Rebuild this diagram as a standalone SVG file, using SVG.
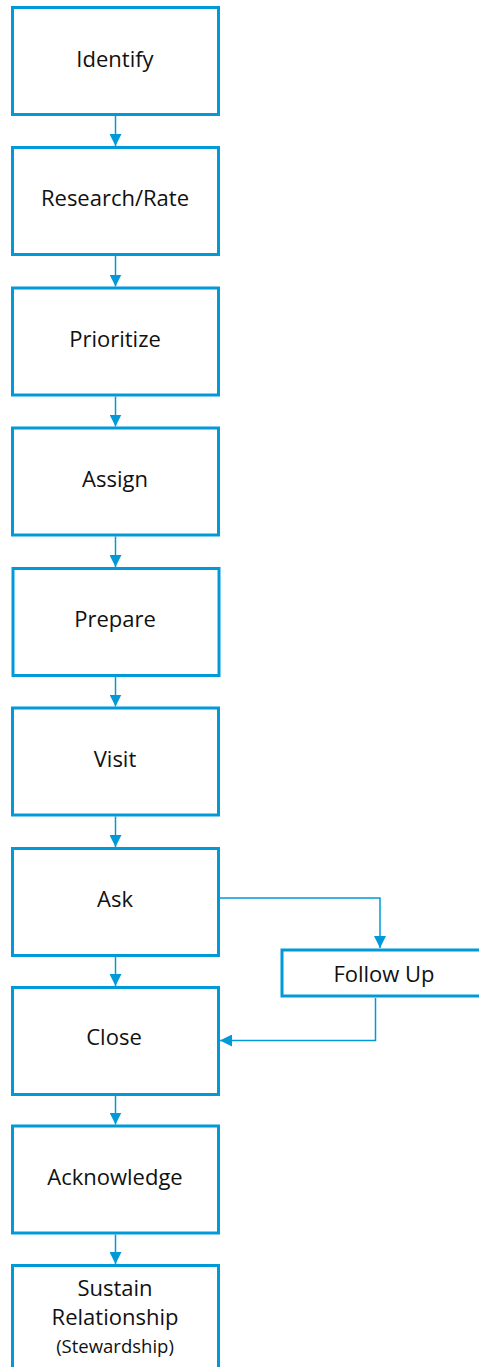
<svg xmlns="http://www.w3.org/2000/svg" width="479" height="1367" viewBox="0 0 479 1367">
<style>
.box{fill:#fff;stroke:#009ad9;stroke-width:3}
.ln{fill:none;stroke:#009ad9;stroke-width:1.5}
.t{font-family:"Open Sans","Liberation Sans",sans-serif;font-size:22px;fill:#111;text-anchor:middle}
.s{font-size:18.5px}
</style>
<defs>
<marker id="a" markerUnits="userSpaceOnUse" markerWidth="12" markerHeight="12" refX="12" refY="6" orient="auto">
<path d="M0,0L12,6L0,12z" fill="#009ad9"/>
</marker>
</defs>
<rect width="479" height="1367" fill="#fff"/>
<g id="connectors">
<line class="ln" x1="115.5" y1="116" x2="115.5" y2="146" marker-end="url(#a)"/>
<line class="ln" x1="115.5" y1="256" x2="115.5" y2="286.5" marker-end="url(#a)"/>
<line class="ln" x1="115.5" y1="396.5" x2="115.5" y2="426.5" marker-end="url(#a)"/>
<line class="ln" x1="115.5" y1="536.5" x2="115.5" y2="567" marker-end="url(#a)"/>
<line class="ln" x1="115.5" y1="677" x2="115.5" y2="706.5" marker-end="url(#a)"/>
<line class="ln" x1="115.5" y1="816.5" x2="115.5" y2="847" marker-end="url(#a)"/>
<line class="ln" x1="115.5" y1="957" x2="115.5" y2="986" marker-end="url(#a)"/>
<line class="ln" x1="115.5" y1="1096" x2="115.5" y2="1124.5" marker-end="url(#a)"/>
<line class="ln" x1="115.5" y1="1234.5" x2="115.5" y2="1264" marker-end="url(#a)"/>
<polyline class="ln" points="220,898 380,898 380,948" marker-end="url(#a)"/>
<polyline class="ln" points="375.5,998 375.5,1040.5 220,1040.5" marker-end="url(#a)"/>
</g>
<g id="n1"><rect class="box" x="12.5" y="7.5" width="206" height="107"/><text class="t" x="115" y="66.5">Identify</text></g>
<g id="n2"><rect class="box" x="12.5" y="147.5" width="206" height="107"/><text class="t" x="115" y="205.5">Research/Rate</text></g>
<g id="n3"><rect class="box" x="12.5" y="288" width="206" height="107"/><text class="t" x="115" y="346.5">Prioritize</text></g>
<g id="n4"><rect class="box" x="12.5" y="428" width="206" height="107"/><text class="t" x="115" y="486.5">Assign</text></g>
<g id="n5"><rect class="box" x="13" y="568.5" width="206" height="107"/><text class="t" x="115" y="626.5">Prepare</text></g>
<g id="n6"><rect class="box" x="12.5" y="708" width="206" height="107"/><text class="t" x="115" y="766.5">Visit</text></g>
<g id="n7"><rect class="box" x="12.5" y="848.5" width="206" height="107"/><text class="t" x="115" y="906.5">Ask</text></g>
<g id="n8"><rect class="box" x="12.5" y="987.5" width="206" height="107"/><text class="t" x="114" y="1044.5">Close</text></g>
<g id="n9"><rect class="box" x="12.5" y="1126" width="206" height="107"/><text class="t" x="115" y="1184.5">Acknowledge</text></g>
<g id="n10"><rect class="box" x="12.5" y="1265.5" width="206" height="107"/><text class="t" x="115" y="1295.5">Sustain</text><text class="t" x="115" y="1324.5">Relationship</text><text class="t s" x="115" y="1353">(Stewardship)</text></g>
<g id="n11"><rect class="box" x="282" y="950" width="210" height="46"/><text class="t" x="384" y="981.5">Follow Up</text></g>
</svg>
